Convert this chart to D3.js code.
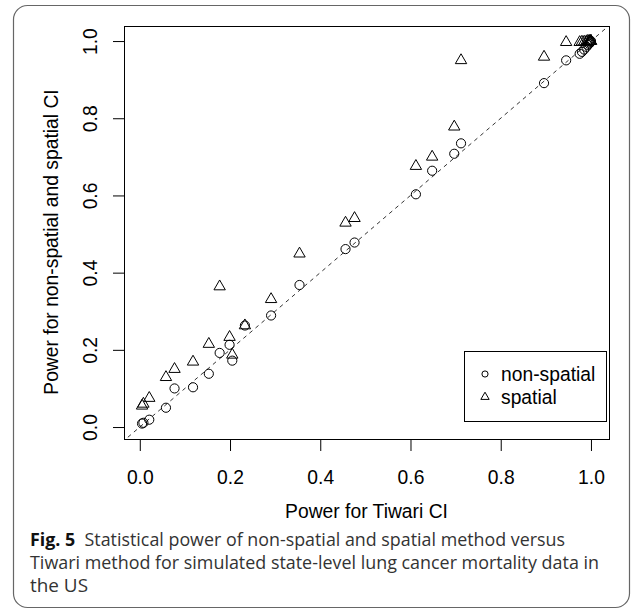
<!DOCTYPE html>
<html>
<head>
<meta charset="utf-8">
<script src="https://cdn.jsdelivr.net/npm/d3@7"></script>
<style>
  html, body { margin: 0; padding: 0; background: #fff; }
  svg { display: block; }
</style>
</head>
<body>
<svg id="chart" width="637" height="615"></svg>
<script>
// power of each method, one entry per simulated state
const tiwari     = [0.005, 0.008, 0.021, 0.058, 0.077, 0.118, 0.153, 0.177, 0.199, 0.205, 0.233, 0.291, 0.354, 0.456, 0.476, 0.612, 0.648, 0.697, 0.712, 0.896, 0.945, 0.975, 0.980, 0.985, 0.990, 0.993, 0.996, 0.998, 1.000, 1.000];
const nonSpatial = [0.009, 0.011, 0.019, 0.050, 0.100, 0.103, 0.138, 0.192, 0.213, 0.172, 0.263, 0.289, 0.368, 0.461, 0.478, 0.603, 0.664, 0.708, 0.735, 0.891, 0.950, 0.967, 0.972, 0.978, 0.985, 0.990, 0.993, 0.996, 0.998, 1.000];
const spatial    = [0.055, 0.060, 0.075, 0.129, 0.150, 0.169, 0.215, 0.364, 0.233, 0.187, 0.263, 0.331, 0.449, 0.529, 0.541, 0.676, 0.700, 0.778, 0.950, 0.959, 0.997, 0.997, 0.998, 0.998, 0.999, 1.000, 1.000, 1.000, 1.000, 1.000];

const xTicks = [0, 0.2, 0.4, 0.6, 0.8, 1.0];
const yTicks = [0, 0.2, 0.4, 0.6, 0.8, 1.0];
const legendLabels = ["non-spatial", "spatial"];

const xTitle = "Power for Tiwari CI";
const yTitle = "Power for non-spatial and spatial CI";
const captionLines = [
  ["Fig. 5", "  Statistical power of non-spatial and spatial method versus"],
  ["", "Tiwari method for simulated state-level lung cancer mortality data in"],
  ["", "the US"]
];

const svg = d3.select("#chart");
const font = "'Liberation Sans', Arial, sans-serif";
const fs = "19.3px";

// card frame
svg.append("rect")
  .attr("x", 13.5).attr("y", 5.5)
  .attr("width", 616).attr("height", 602)
  .attr("rx", 14).attr("ry", 14)
  .attr("fill", "none")
  .attr("stroke", "#666")
  .attr("stroke-width", 1.2);

const pLeft = 124, pRight = 609, pTop = 26, pBottom = 439;

var x = d3.scaleLinear().domain([-0.035, 1.04]).range([pLeft, pRight]);
var y = d3.scaleLinear().domain([-0.031, 1.039]).range([pBottom, pTop]);

// axes (R style: ticks outside, labels below / rotated at left)
var xAxis = svg.append("g")
  .attr("transform", "translate(0," + pBottom + ")")
  .call(d3.axisBottom(x).tickValues(xTicks).tickFormat(d3.format(".1f")).tickSize(12).tickPadding(19));
xAxis.select(".domain").remove();
xAxis.selectAll("line").attr("stroke", "#000");
xAxis.selectAll("text")
  .style("font-family", font).style("font-size", fs).attr("fill", "#000");

var yAxis = svg.append("g")
  .attr("transform", "translate(" + pLeft + ",0)")
  .call(d3.axisLeft(y).tickValues(yTicks).tickFormat(d3.format(".1f")).tickSize(11).tickPadding(0));
yAxis.select(".domain").remove();
yAxis.selectAll("line").attr("stroke", "#000");
yAxis.selectAll("text")
  .attr("x", null).attr("dy", null)
  .attr("transform", "translate(-27,0) rotate(-90)")
  .attr("text-anchor", "middle")
  .style("font-family", font).style("font-size", fs).attr("fill", "#000");

// plot box
svg.append("rect")
  .attr("x", pLeft + 0.5).attr("y", pTop + 0.5)
  .attr("width", pRight - pLeft).attr("height", pBottom - pTop)
  .attr("fill", "none").attr("stroke", "#000").attr("stroke-width", 1);

svg.append("clipPath").attr("id", "plotClip")
  .append("rect")
  .attr("x", pLeft).attr("y", pTop)
  .attr("width", pRight - pLeft).attr("height", pBottom - pTop);

// y = x reference line
svg.append("line")
  .attr("clip-path", "url(#plotClip)")
  .attr("x1", x(-0.04)).attr("y1", y(-0.04))
  .attr("x2", x(1.05)).attr("y2", y(1.05))
  .attr("stroke", "#000")
  .attr("stroke-width", 0.8)
  .attr("stroke-dasharray", "4,4");

const circle = d3.symbol().type(d3.symbolCircle).size(66);
const triangle = d3.symbol().type(d3.symbolTriangle).size(56);

svg.append("g").selectAll("path")
  .data(tiwari)
  .enter()
  .append("path")
  .attr("d", circle)
  .attr("transform", function(d, i) { return "translate(" + x(d) + "," + y(nonSpatial[i]) + ")"; })
  .attr("fill", "none").attr("stroke", "#000").attr("stroke-width", 1);

svg.append("g").selectAll("path")
  .data(tiwari)
  .enter()
  .append("path")
  .attr("d", triangle)
  .attr("transform", function(d, i) { return "translate(" + x(d) + "," + y(spatial[i]) + ")"; })
  .attr("fill", "none").attr("stroke", "#000").attr("stroke-width", 1);

// legend
const lg = svg.append("g");
lg.append("rect")
  .attr("x", 464.5).attr("y", 351.5)
  .attr("width", 142).attr("height", 70)
  .attr("fill", "#fff").attr("stroke", "#000");
const legendSymbols = [d3.symbol().type(d3.symbolCircle).size(30), d3.symbol().type(d3.symbolTriangle).size(30)];
legendLabels.forEach(function(lab, i) {
  const cy = 374 + i * 23;
  lg.append("path")
    .attr("d", legendSymbols[i])
    .attr("transform", "translate(485," + cy + ")")
    .attr("fill", "none").attr("stroke", "#000");
  lg.append("text")
    .attr("x", 501).attr("y", cy + 6.5)
    .style("font-family", font).style("font-size", fs)
    .text(lab);
});

// axis titles
svg.append("text")
  .attr("x", (pLeft + pRight) / 2).attr("y", 518)
  .attr("text-anchor", "middle")
  .style("font-family", font).style("font-size", fs)
  .text(xTitle);

svg.append("text")
  .attr("transform", "translate(58,242) rotate(-90)")
  .attr("text-anchor", "middle")
  .style("font-family", font).style("font-size", fs)
  .text(yTitle);

// caption
const capWidths = [535, 569, 58];
captionLines.forEach(function(line, i) {
  const t = svg.append("text")
    .attr("x", 30).attr("y", 546 + i * 23)
    .attr("textLength", capWidths[i])
    .attr("lengthAdjust", "spacingAndGlyphs")
    .style("font-family", "'Open Sans', 'Noto Sans', sans-serif")
    .style("font-size", "18px")
    .attr("fill", "#333")
    .attr("xml:space", "preserve")
    .style("white-space", "pre");
  if (line[0]) {
    t.append("tspan").attr("font-weight", "bold").attr("fill", "#111").text(line[0]);
  }
  t.append("tspan").text(line[1]);
});
</script>
</body>
</html>
